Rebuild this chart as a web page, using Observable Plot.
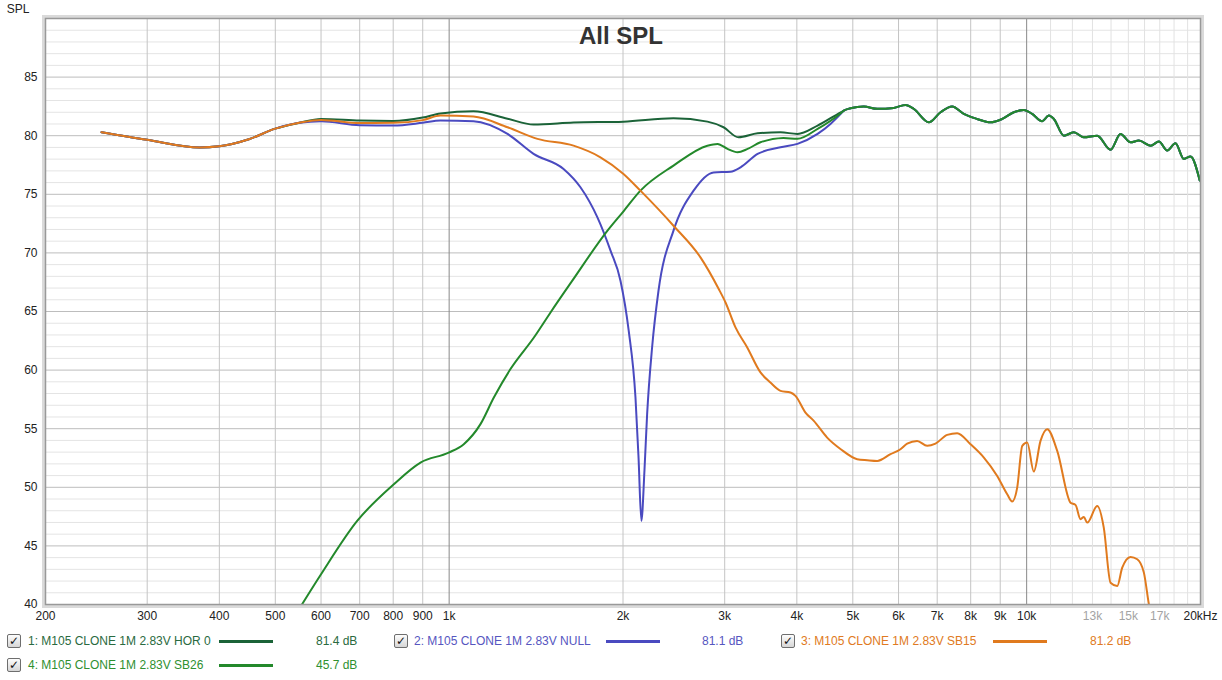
<!DOCTYPE html>
<html><head><meta charset="utf-8">
<script src="https://cdn.jsdelivr.net/npm/d3@7"></script>
<script src="https://cdn.jsdelivr.net/npm/@observablehq/plot@0.6"></script>
<style>
body{margin:0;background:#fff;font-family:"Liberation Sans",Arial,sans-serif;}
#wrap{position:relative;width:1222px;height:680px;overflow:hidden;}
#wrap svg{position:absolute;left:0;top:0;}
.t{position:absolute;font-size:12px;white-space:nowrap;line-height:14px;}
.cb{position:absolute;width:12px;height:12px;border:1px solid #6e6e6e;border-radius:2px;background:linear-gradient(#fdfdfd,#d6d6d6);font-family:"DejaVu Sans",sans-serif;font-size:12px;line-height:12px;text-align:center;color:#111;font-weight:bold;}
.ln{position:absolute;height:3px;}
</style></head><body><div id="wrap"></div>
<script>
// ---- data (Hz, dB) ----
const lowFreq = [250, 300, 370, 400, 450, 500, 550];
const lowDb   = [80.3, 79.65, 79.0, 79.1, 79.7, 80.6, 81.1];

const horFreq = [600,700,800,900,966,1102,1262,1400,1642,2004,2446,2800,2986,3170,3420,3748,4010,4345,4765];
const horDb   = [81.43,81.29,81.25,81.55,81.9,82.08,81.45,80.95,81.12,81.2,81.49,81.2,80.72,79.86,80.2,80.29,80.15,80.86,82.0];

const nullFreq = [600,700,800,900,966,1102,1262,1400,1578,1688,1806,1903,1980,2046,2102,2128,2152,2179,2202,2246,2304,2446,2650,2870,3070,3196,3420,3748,4010,4345,4574,4765];
const nullDb   = [81.23,80.89,80.86,81.1,81.29,81.23,80.15,78.45,77.16,75.6,73.03,70.19,67.63,63.36,57.66,52.5,47.13,51.5,56.24,61.93,66.77,71.9,75.31,76.87,76.93,77.3,78.44,79.01,79.3,80.15,81.0,81.86];

const sb15Freq = [600,700,800,900,966,1102,1262,1422,1642,1828,2004,2144,2446,2724,2928,3010,3132,3282,3460,3600,3748,3900,3978,4140,4280,4514,4765,5088,5296,5512,5812,6046,6210,6462,6726,6952,7284,7582,7994,8432,8892,9254,9440,9630,9826,10022,10290,10568,10854,11296,11912,12150,12396,12560,12732,13250,13600,13972,14350,14638,15132,15544,15958,16280,16500];
const sb15Db   = [81.35,81.09,81.1,81.33,81.72,81.63,80.72,79.73,79.15,78.16,76.74,75.31,72.32,69.62,66.94,65.77,63.64,61.93,59.8,58.94,58.23,58.09,57.8,56.38,55.67,54.24,53.25,52.4,52.31,52.25,52.83,53.25,53.73,53.96,53.54,53.73,54.47,54.62,53.68,52.54,50.97,49.41,48.79,49.97,53.54,53.82,51.34,53.96,54.96,53.11,48.69,48.5,47.28,47.47,46.99,48.41,46.56,41.86,41.58,43.14,44.06,43.86,42.72,40.02,38.5];

const sb26Freq = [556,600,693,802,892,998,1060,1133,1195,1277,1402,1498,1634,1880,2004,2144,2446,2800,2916,3034,3158,3286,3460,3792,4010,4345,4765];
const sb26Db   = [40.0,42.58,47.13,50.26,52.11,52.96,53.68,55.39,57.66,60.09,62.78,64.92,67.63,71.9,73.55,75.31,77.45,79.15,79.3,78.87,78.58,78.87,79.44,79.81,79.73,80.58,81.92];

const highFreq = [4824,4954,5224,5512,5888,6170,6376,6770,7094,7430,7782,8210,8658,9072,9502,9886,10224,10640,10924,11144,11600,12068,12560,13250,13972,14540,15132,15644,16390,16942,17516,18098,18714,19220,19940];
const highDb   = [82.14,82.34,82.49,82.29,82.37,82.63,82.29,81.14,82.0,82.49,81.86,81.43,81.14,81.43,82.0,82.2,81.86,81.23,81.72,81.43,80.0,80.29,79.86,80.0,78.81,80.15,79.44,79.58,79.15,79.5,78.73,79.35,78.02,78.22,76.17];

const seriesNames  = ["1: M105 CLONE 1M 2.83V HOR 0","2: M105 CLONE 1M 2.83V NULL","3: M105 CLONE 1M 2.83V SB15","4: M105 CLONE 1M 2.83V SB26"];
const seriesValues = ["81.4 dB","81.1 dB","81.2 dB","45.7 dB"];
const seriesColors = ["#1b6338","#4a4ac0","#e07a1e","#23892b"];
const textColors   = ["#2a6a40","#5656bf","#e07a22","#2f9030"];

const xTicks = [200,300,400,500,600,700,800,900,1000,2000,3000,4000,5000,6000,7000,8000,9000,10000,20000];
const xTickLabels = ["200","300","400","500","600","700","800","900","1k","2k","3k","4k","5k","6k","7k","8k","9k","10k","20kHz"];
const xMinorTicks = [13000,15000,17000];
const xMinorLabels = ["13k","15k","17k"];
const yTicks = [40,45,50,55,60,65,70,75,80,85];

// ---- build ----
function zip(f, d, s){ return f.map((v,i)=>({f:v, db:d[i], s})); }
const hor  = [...zip(lowFreq,lowDb,0), ...zip(horFreq,horDb,0), ...zip(highFreq,highDb,0)];
const nul  = [...zip(lowFreq,lowDb,1), ...zip(nullFreq,nullDb,1), ...zip(highFreq,highDb,1)];
const sb15 = [...zip(lowFreq,lowDb,2), ...zip(sb15Freq,sb15Db,2)];
const sb26 = [...zip(sb26Freq,sb26Db,3), ...zip(highFreq,highDb,3)];

const gridMid = [300,400,500,600,700,800,900,2000,3000,4000,5000,6000,7000,8000,9000];
const gridLight = [11000,12000,13000,14000,15000,16000,17000,18000,19000];
const minorDb = d3.range(41,90).filter(v=>v%5!==0);
const majorDb = [45,50,55,60,65,70,75,80,85];

const lineOpts = (c) => ({x:"f", y:"db", stroke:c, strokeWidth:2, curve:"monotone-x", clip:true});
const xLabels = xTicks.map((v,i)=>({v, t:xTickLabels[i]}));
const xMinor = xMinorTicks.map((v,i)=>({v, t:xMinorLabels[i]}));

const chart = Plot.plot({
  width:1222, height:630,
  marginLeft:45, marginRight:22, marginTop:18, marginBottom:26,
  style:{fontFamily:"'Liberation Sans', Arial, sans-serif", fontSize:"12px", background:"transparent"},
  x:{type:"log", domain:[200,20000], axis:null},
  y:{domain:[40,90], axis:null},
  marks:[
    Plot.ruleY(minorDb, {stroke:"#e4e4e4", strokeWidth:1}),
    Plot.ruleY(majorDb, {stroke:"#bdbdbd", strokeWidth:1}),
    Plot.ruleX(gridLight, {stroke:"#e2e2e2", strokeWidth:1}),
    Plot.ruleX(gridMid, {stroke:"#c4c4c4", strokeWidth:1}),
    Plot.ruleX([1000,10000], {stroke:"#8a8a8a", strokeWidth:1}),
    Plot.line(hor, lineOpts(seriesColors[0])),
    Plot.line(nul, lineOpts(seriesColors[1])),
    Plot.line(sb26, lineOpts(seriesColors[3])),
    Plot.line(sb15, lineOpts(seriesColors[2])),
    Plot.frame({stroke:"#dadada", strokeWidth:3, inset:-2}),
    Plot.frame({stroke:"#999999", strokeWidth:1.5}),
    Plot.text(xLabels, {x:"v", text:"t", frameAnchor:"bottom", lineAnchor:"top", dy:7, fill:"#222", fontSize:12}),
    Plot.text(xMinor, {x:"v", text:"t", frameAnchor:"bottom", lineAnchor:"top", dy:7, fill:"#a3a3a3", fontSize:12}),
    Plot.text(yTicks, {y:d=>d, text:d=>String(d), frameAnchor:"left", textAnchor:"end", dx:-8, fill:"#222", fontSize:12})
  ]
});

const wrap = document.getElementById("wrap");
wrap.appendChild(chart);
const svg = d3.select(chart);
svg.append("text").attr("x",621).attr("y",44).attr("text-anchor","middle")
  .attr("font-size",24).attr("font-weight","bold").attr("fill","#333")
  .attr("font-family","'Liberation Sans', Arial, sans-serif").text("All SPL");
svg.append("text").attr("x",18).attr("y",13).attr("font-size",12).attr("fill","#222")
  .attr("font-family","'Liberation Sans', Arial, sans-serif").text("SPL");

// ---- legend ----
const slots = [
  {box:7,   text:28,  l0:219, l1:273, val:316, row:0},
  {box:394, text:414, l0:606, l1:660, val:702, row:0},
  {box:781, text:801, l0:993, l1:1047, val:1090, row:0},
  {box:7,   text:28,  l0:219, l1:273, val:316, row:1}
];
const rowY = [641, 665];
slots.forEach((s,i)=>{
  const cy = rowY[s.row];
  const b = document.createElement("div"); b.className="cb";
  b.style.left=s.box+"px"; b.style.top=(cy-7)+"px"; b.textContent="✓"; wrap.appendChild(b);
  const t = document.createElement("div"); t.className="t";
  t.style.left=s.text+"px"; t.style.top=(cy-7)+"px"; t.style.color=textColors[i];
  t.textContent=seriesNames[i]; wrap.appendChild(t);
  const l = document.createElement("div"); l.className="ln";
  l.style.left=s.l0+"px"; l.style.width=(s.l1-s.l0)+"px"; l.style.top=(cy-1)+"px";
  l.style.background=seriesColors[i]; wrap.appendChild(l);
  const v = document.createElement("div"); v.className="t";
  v.style.left=s.val+"px"; v.style.top=(cy-7)+"px"; v.style.color=textColors[i];
  v.textContent=seriesValues[i]; wrap.appendChild(v);
});
</script></body></html>
